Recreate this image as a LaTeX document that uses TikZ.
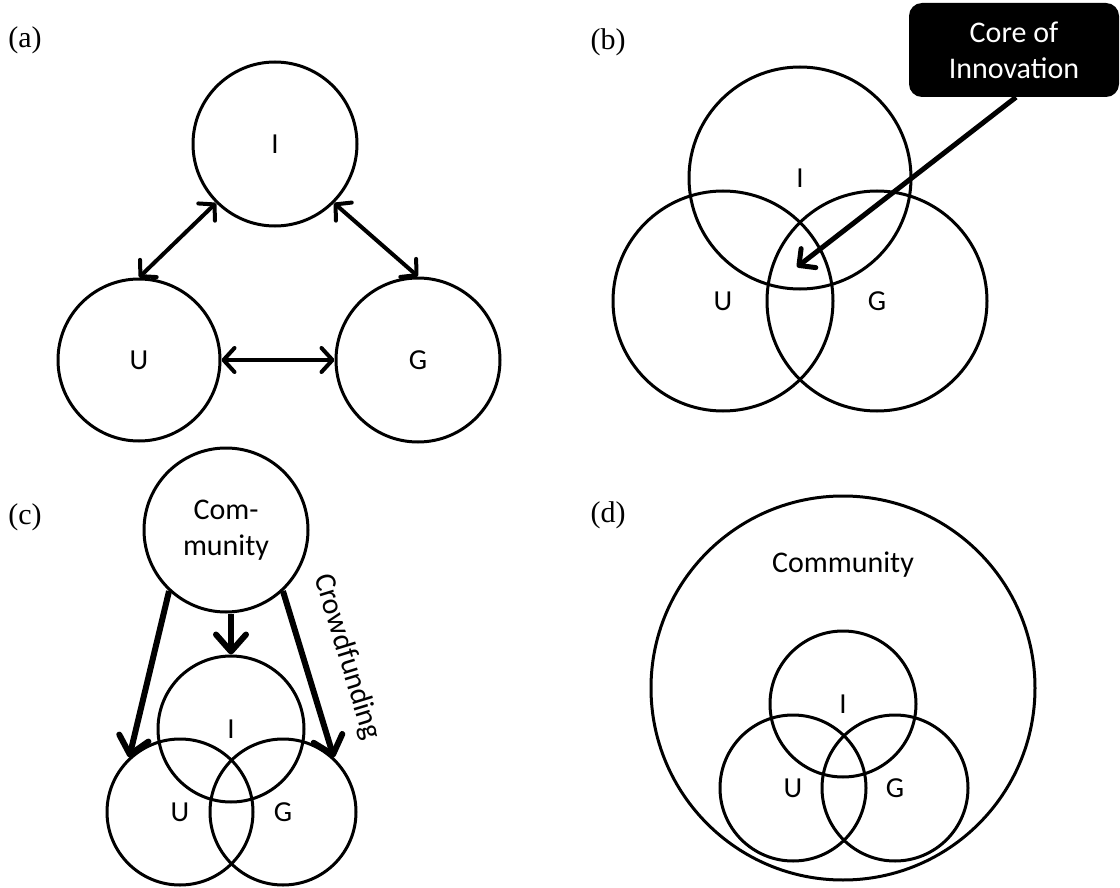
\documentclass[tikz,border=0pt]{standalone}
\usepackage{fontspec}
\setmainfont{Liberation Serif}
\newfontfamily\calibri{Carlito}
\usetikzlibrary{arrows.meta}
\newcommand\sansL{\calibri\fontsize{29}{34}\selectfont}
\newcommand\sansW{\calibri\fontsize{30}{36}\selectfont}
\begin{document}
\begin{tikzpicture}[x=1pt,y=-1pt,
  circ/.style={circle, draw, line width=3pt, inner sep=0pt, font=\sansL},
  panellab/.style={font=\fontsize{30}{34}\selectfont, inner sep=0pt},
  arra/.style={line width=4pt, {Straight Barb[length=11pt,width=24pt,round]}-{Straight Barb[length=11pt,width=24pt,round]}},
  arrb/.style={line width=5pt, -{Straight Barb[length=12pt,width=24pt,round]}},
  arrc/.style={line width=6pt, -{Straight Barb[length=17pt,width=30pt,round]}},
  corebox/.style={fill=black, rounded corners=13pt, text=white, minimum width=210pt, minimum height=94pt, align=center, font=\sansW, inner sep=0pt}
]
\useasboundingbox (0,0) rectangle (1120,888);

% ---------- (a)
\node[panellab] (la) at (25,40) {(a)};
\node[circ, minimum size=164pt] (aI) at (275,144) {I};
\node[circ, minimum size=162pt] (aU) at (139,360) {U};
\node[circ, minimum size=164pt] (aG) at (418,360) {G};
\draw[arra] (aU.north) -- (aI.-135);
\draw[arra] (aI.-45) -- (aG.north);
\draw[arra] (aU.east) -- (aG.west);

% ---------- (b)
\node[panellab] (lb) at (608,42) {(b)};
\node[circ, minimum size=222pt] (bI) at (800,178) {I};
\node[circ, minimum size=220pt] (bU) at (723,301) {U};
\node[circ, minimum size=220pt] (bG) at (877,301) {G};
\node[corebox] (core) at (1014,50) {Core of\\Innovation};
\coordinate (bcore) at (797,267);
\draw[arrb] ([xshift=2pt]core.south) -- (bcore);

% ---------- (c)
\node[panellab] (lc) at (25,517) {(c)};
\node[circ, minimum size=164pt, font=\sansW, align=center] (cC) at (226,530) {Com-\\munity};
\node[circ, minimum size=146pt] (cI) at (231,729) {I};
\node[circ, minimum size=146pt] (cU) at (180,812) {U};
\node[circ, minimum size=146pt] (cG) at (283,812) {G};
\draw[arrc] (cC.-133) -- (cU.133);
\draw[arrc] (cC.south -| cI.north) -- (cI.north);
\draw[arrc] (cC.-47) -- (cG.47);
\node[font=\sansW, rotate=-73, inner sep=0pt] (cf) at (347,657) {Crowdfunding};

% ---------- (d)
\node[panellab] (ld) at (608,515) {(d)};
\node[circ, minimum size=384pt] (dC) at (843,688) {};
\node[font=\sansW, inner sep=0pt] (dCl) at (843,565) {Community};
\node[circ, minimum size=146pt] (dI) at (843,704) {I};
\node[circ, minimum size=146pt] (dU) at (793,788) {U};
\node[circ, minimum size=146pt] (dG) at (895,788) {G};
\end{tikzpicture}
\end{document}
